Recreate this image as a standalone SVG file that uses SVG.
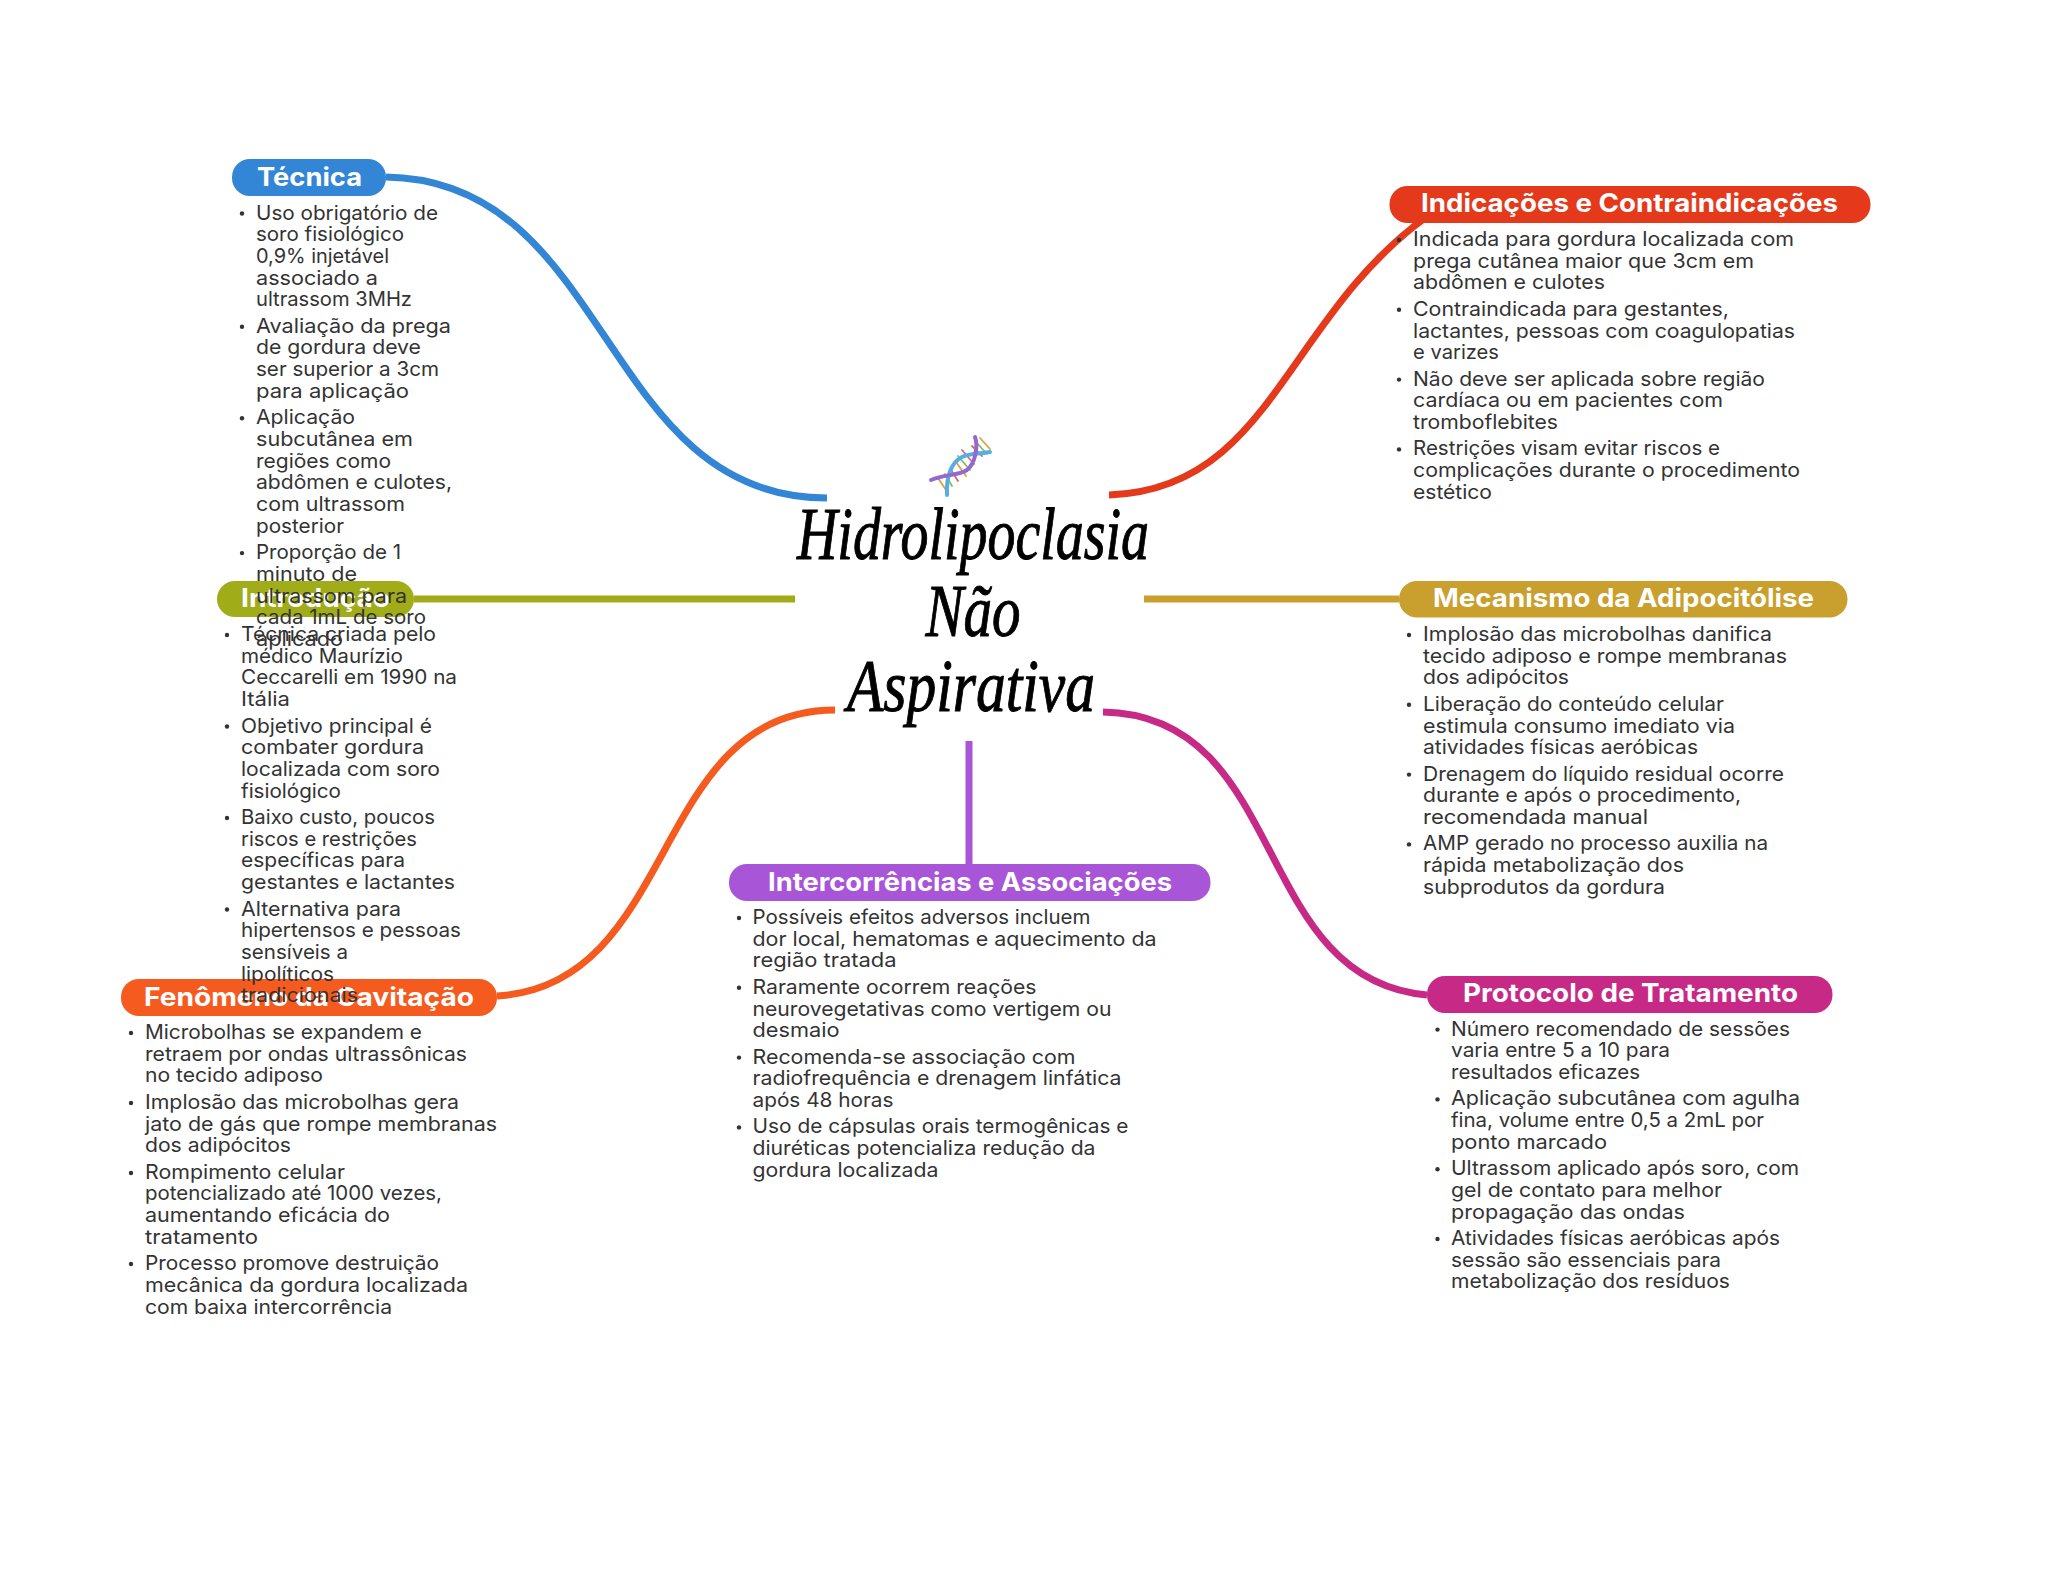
<svg xmlns="http://www.w3.org/2000/svg" width="2048" height="1569" viewBox="0 0 2048 1569">
<style>
.t{font-family:"Inter","Noto Sans",sans-serif;font-size:20px;fill:#333}
.h{font-family:"Inter","Noto Sans",sans-serif;font-size:25.5px;font-weight:700;fill:#fff}
.c{fill:none;stroke-width:7}
.m{font-family:"Liberation Serif",serif;font-style:italic;font-size:74px;fill:#000;stroke:#000;stroke-width:1}
.b{fill:#333}
</style>
<rect width="2048" height="1569" fill="#fff"/>
<g id="connectors">
<path class="c" stroke="#3385d6" d="M386 177C612 180 600 498 827 498"/>
<path class="c" stroke="#e5391b" d="M1109 495C1270 490 1285 320 1425 218"/>
<path class="c" stroke="#a0ac18" d="M414 599H795"/>
<path class="c" stroke="#c9a02e" d="M1144 599H1399"/>
<path class="c" stroke="#f55a1e" d="M497 996C680 985 650 710 835 710"/>
<path class="c" stroke="#c72a86" d="M1103 712C1290 715 1250 980 1427 995"/>
<path class="c" stroke="#a855d8" d="M969 741V864"/>
</g>
<g id="central">
<g id="dna" fill="none" stroke-linecap="round">
<g stroke-width="1.8">
<path stroke="#e0a040" d="M938 478L946 490"/><path stroke="#7fc060" d="M945 474L952 486"/><path stroke="#d86a6a" d="M951 470L958 481"/>
<path stroke="#e0a040" d="M956 462L966 476"/><path stroke="#7fc060" d="M958 456L970 470"/><path stroke="#d86a6a" d="M962 450L974 464"/>
<path stroke="#7fc060" d="M976 442L986 453"/><path stroke="#e0a040" d="M980 438L990 449"/><path stroke="#d86a6a" d="M972 446L982 456"/>
</g>
<path stroke="#56aee0" stroke-width="4" d="M947 495C946 475 952 462 962 457C972 452 982 454 990 452"/>
<path stroke="#9468cf" stroke-width="4" d="M931 480C945 474 958 476 967 470C976 463 978 445 975 437"/>
</g>
<text class="m" x="973" y="559" text-anchor="middle" textLength="352" lengthAdjust="spacingAndGlyphs">Hidrolipoclasia</text>
<text class="m" x="973" y="636" text-anchor="middle" textLength="95" lengthAdjust="spacingAndGlyphs">Não</text>
<text class="m" x="971" y="711" text-anchor="middle" textLength="248" lengthAdjust="spacingAndGlyphs">Aspirativa</text>
</g>
<g id="fenomeno">
<rect x="121" y="979" width="376" height="37" rx="18" fill="#f55a1e"/>
<text class="h" x="144" y="1006" textLength="330" lengthAdjust="spacingAndGlyphs">Fenômeno da Cavitação</text>
<circle class="b" cx="131" cy="1033" r="2.2"/><circle class="b" cx="131" cy="1103" r="2.2"/><circle class="b" cx="131" cy="1173" r="2.2"/><circle class="b" cx="131" cy="1264" r="2.2"/>
<text class="t" x="145" y="1039" textLength="277" lengthAdjust="spacingAndGlyphs">Microbolhas se expandem e</text>
<text class="t" x="145" y="1060.7" textLength="322" lengthAdjust="spacingAndGlyphs">retraem por ondas ultrassônicas</text>
<text class="t" x="145" y="1082.4" textLength="178" lengthAdjust="spacingAndGlyphs">no tecido adiposo</text>
<text class="t" x="145" y="1108.8" textLength="314" lengthAdjust="spacingAndGlyphs">Implosão das microbolhas gera</text>
<text class="t" x="145" y="1130.5" textLength="352" lengthAdjust="spacingAndGlyphs">jato de gás que rompe membranas</text>
<text class="t" x="145" y="1152.2" textLength="146" lengthAdjust="spacingAndGlyphs">dos adipócitos</text>
<text class="t" x="145" y="1178.6" textLength="200" lengthAdjust="spacingAndGlyphs">Rompimento celular</text>
<text class="t" x="145" y="1200.3" textLength="297" lengthAdjust="spacingAndGlyphs">potencializado até 1000 vezes,</text>
<text class="t" x="145" y="1222" textLength="245" lengthAdjust="spacingAndGlyphs">aumentando eficácia do</text>
<text class="t" x="145" y="1243.7" textLength="113" lengthAdjust="spacingAndGlyphs">tratamento</text>
<text class="t" x="145" y="1270.1" textLength="294" lengthAdjust="spacingAndGlyphs">Processo promove destruição</text>
<text class="t" x="145" y="1291.8" textLength="323" lengthAdjust="spacingAndGlyphs">mecânica da gordura localizada</text>
<text class="t" x="145" y="1313.5" textLength="247" lengthAdjust="spacingAndGlyphs">com baixa intercorrência</text>
</g>
<g id="introducao">
<rect x="217" y="581" width="197" height="36" rx="18" fill="#a0ac18"/>
<text class="h" x="241" y="607" textLength="149" lengthAdjust="spacingAndGlyphs">Introdução</text>
<circle class="b" cx="227" cy="635" r="2.2"/><circle class="b" cx="227" cy="726.5" r="2.2"/><circle class="b" cx="227" cy="818" r="2.2"/><circle class="b" cx="227" cy="909.500" r="2.2"/>
<text class="t" x="241" y="641" textLength="195" lengthAdjust="spacingAndGlyphs">Técnica criada pelo</text>
<text class="t" x="241" y="662.7" textLength="162" lengthAdjust="spacingAndGlyphs">médico Maurízio</text>
<text class="t" x="241" y="684.4" textLength="216" lengthAdjust="spacingAndGlyphs">Ceccarelli em 1990 na</text>
<text class="t" x="241" y="706.1" textLength="49" lengthAdjust="spacingAndGlyphs">Itália</text>
<text class="t" x="241" y="732.5" textLength="191" lengthAdjust="spacingAndGlyphs">Objetivo principal é</text>
<text class="t" x="241" y="754.2" textLength="183" lengthAdjust="spacingAndGlyphs">combater gordura</text>
<text class="t" x="241" y="775.9" textLength="199" lengthAdjust="spacingAndGlyphs">localizada com soro</text>
<text class="t" x="241" y="797.6" textLength="100" lengthAdjust="spacingAndGlyphs">fisiológico</text>
<text class="t" x="241" y="824" textLength="194" lengthAdjust="spacingAndGlyphs">Baixo custo, poucos</text>
<text class="t" x="241" y="845.7" textLength="176" lengthAdjust="spacingAndGlyphs">riscos e restrições</text>
<text class="t" x="241" y="867.4" textLength="164" lengthAdjust="spacingAndGlyphs">específicas para</text>
<text class="t" x="241" y="889.1" textLength="214" lengthAdjust="spacingAndGlyphs">gestantes e lactantes</text>
<text class="t" x="241" y="915.5" textLength="160" lengthAdjust="spacingAndGlyphs">Alternativa para</text>
<text class="t" x="241" y="937.2" textLength="220" lengthAdjust="spacingAndGlyphs">hipertensos e pessoas</text>
<text class="t" x="241" y="958.9" textLength="107" lengthAdjust="spacingAndGlyphs">sensíveis a</text>
<text class="t" x="241" y="980.6" textLength="93" lengthAdjust="spacingAndGlyphs">lipolíticos</text>
<text class="t" x="241" y="1002.3" textLength="117" lengthAdjust="spacingAndGlyphs">tradicionais</text>
</g>
<g id="tecnica">
<rect x="232" y="159" width="154" height="37" rx="18" fill="#3385d6"/>
<text class="h" x="257" y="186" textLength="105" lengthAdjust="spacingAndGlyphs">Técnica</text>
<circle class="b" cx="242" cy="213.500" r="2.2"/><circle class="b" cx="242" cy="326.700" r="2.2"/><circle class="b" cx="242" cy="418.200" r="2.2"/><circle class="b" cx="242" cy="553.100" r="2.2"/>
<text class="t" x="256" y="219.500" textLength="182" lengthAdjust="spacingAndGlyphs">Uso obrigatório de</text>
<text class="t" x="256" y="241.200" textLength="148" lengthAdjust="spacingAndGlyphs">soro fisiológico</text>
<text class="t" x="256" y="262.900" textLength="133" lengthAdjust="spacingAndGlyphs">0,9% injetável</text>
<text class="t" x="256" y="284.600" textLength="122" lengthAdjust="spacingAndGlyphs">associado a</text>
<text class="t" x="256" y="306.300" textLength="156" lengthAdjust="spacingAndGlyphs">ultrassom 3MHz</text>
<text class="t" x="256" y="332.700" textLength="195" lengthAdjust="spacingAndGlyphs">Avaliação da prega</text>
<text class="t" x="256" y="354.400" textLength="165" lengthAdjust="spacingAndGlyphs">de gordura deve</text>
<text class="t" x="256" y="376.100" textLength="183" lengthAdjust="spacingAndGlyphs">ser superior a 3cm</text>
<text class="t" x="256" y="397.800" textLength="153" lengthAdjust="spacingAndGlyphs">para aplicação</text>
<text class="t" x="256" y="424.200" textLength="99" lengthAdjust="spacingAndGlyphs">Aplicação</text>
<text class="t" x="256" y="445.900" textLength="157" lengthAdjust="spacingAndGlyphs">subcutânea em</text>
<text class="t" x="256" y="467.600" textLength="135" lengthAdjust="spacingAndGlyphs">regiões como</text>
<text class="t" x="256" y="489.300" textLength="196" lengthAdjust="spacingAndGlyphs">abdômen e culotes,</text>
<text class="t" x="256" y="511" textLength="149" lengthAdjust="spacingAndGlyphs">com ultrassom</text>
<text class="t" x="256" y="532.700" textLength="88" lengthAdjust="spacingAndGlyphs">posterior</text>
<text class="t" x="256" y="559.100" textLength="145" lengthAdjust="spacingAndGlyphs">Proporção de 1</text>
<text class="t" x="256" y="580.800" textLength="101" lengthAdjust="spacingAndGlyphs">minuto de</text>
<text class="t" x="256" y="602.500" textLength="151" lengthAdjust="spacingAndGlyphs">ultrassom para</text>
<text class="t" x="256" y="624.200" textLength="170" lengthAdjust="spacingAndGlyphs">cada 1mL de soro</text>
<text class="t" x="256" y="645.900" textLength="87" lengthAdjust="spacingAndGlyphs">aplicado</text>
</g>
<g id="indicacoes">
<rect x="1389.500" y="186" width="481" height="37" rx="18" fill="#e5391b"/>
<text class="h" x="1421" y="212" textLength="417" lengthAdjust="spacingAndGlyphs">Indicações e Contraindicações</text>
<circle class="b" cx="1399" cy="240" r="2.2"/><circle class="b" cx="1399" cy="309.800" r="2.2"/><circle class="b" cx="1399" cy="379.600" r="2.2"/><circle class="b" cx="1399" cy="449.400" r="2.2"/>
<text class="t" x="1413" y="246" textLength="381" lengthAdjust="spacingAndGlyphs">Indicada para gordura localizada com</text>
<text class="t" x="1413" y="267.700" textLength="341" lengthAdjust="spacingAndGlyphs">prega cutânea maior que 3cm em</text>
<text class="t" x="1413" y="289.400" textLength="192" lengthAdjust="spacingAndGlyphs">abdômen e culotes</text>
<text class="t" x="1413" y="315.800" textLength="316" lengthAdjust="spacingAndGlyphs">Contraindicada para gestantes,</text>
<text class="t" x="1413" y="337.500" textLength="382" lengthAdjust="spacingAndGlyphs">lactantes, pessoas com coagulopatias</text>
<text class="t" x="1413" y="359.200" textLength="86" lengthAdjust="spacingAndGlyphs">e varizes</text>
<text class="t" x="1413" y="385.600" textLength="352" lengthAdjust="spacingAndGlyphs">Não deve ser aplicada sobre região</text>
<text class="t" x="1413" y="407.300" textLength="310" lengthAdjust="spacingAndGlyphs">cardíaca ou em pacientes com</text>
<text class="t" x="1413" y="429" textLength="145" lengthAdjust="spacingAndGlyphs">tromboflebites</text>
<text class="t" x="1413" y="455.400" textLength="307" lengthAdjust="spacingAndGlyphs">Restrições visam evitar riscos e</text>
<text class="t" x="1413" y="477.100" textLength="387" lengthAdjust="spacingAndGlyphs">complicações durante o procedimento</text>
<text class="t" x="1413" y="498.800" textLength="79" lengthAdjust="spacingAndGlyphs">estético</text>
</g>
<g id="mecanismo">
<rect x="1399" y="581" width="448.500" height="36.500" rx="18" fill="#c9a02e"/>
<text class="h" x="1433" y="607" textLength="381" lengthAdjust="spacingAndGlyphs">Mecanismo da Adipocitólise</text>
<circle class="b" cx="1409" cy="635" r="2.2"/><circle class="b" cx="1409" cy="704.800" r="2.2"/><circle class="b" cx="1409" cy="774.600" r="2.2"/><circle class="b" cx="1409" cy="844.400" r="2.2"/>
<text class="t" x="1423" y="641" textLength="349" lengthAdjust="spacingAndGlyphs">Implosão das microbolhas danifica</text>
<text class="t" x="1423" y="662.700" textLength="364" lengthAdjust="spacingAndGlyphs">tecido adiposo e rompe membranas</text>
<text class="t" x="1423" y="684.400" textLength="146" lengthAdjust="spacingAndGlyphs">dos adipócitos</text>
<text class="t" x="1423" y="710.800" textLength="301" lengthAdjust="spacingAndGlyphs">Liberação do conteúdo celular</text>
<text class="t" x="1423" y="732.500" textLength="312" lengthAdjust="spacingAndGlyphs">estimula consumo imediato via</text>
<text class="t" x="1423" y="754.200" textLength="275" lengthAdjust="spacingAndGlyphs">atividades físicas aeróbicas</text>
<text class="t" x="1423" y="780.600" textLength="361" lengthAdjust="spacingAndGlyphs">Drenagem do líquido residual ocorre</text>
<text class="t" x="1423" y="802.300" textLength="318" lengthAdjust="spacingAndGlyphs">durante e após o procedimento,</text>
<text class="t" x="1423" y="824" textLength="225" lengthAdjust="spacingAndGlyphs">recomendada manual</text>
<text class="t" x="1423" y="850.400" textLength="345" lengthAdjust="spacingAndGlyphs">AMP gerado no processo auxilia na</text>
<text class="t" x="1423" y="872.100" textLength="261" lengthAdjust="spacingAndGlyphs">rápida metabolização dos</text>
<text class="t" x="1423" y="893.800" textLength="242" lengthAdjust="spacingAndGlyphs">subprodutos da gordura</text>
</g>
<g id="protocolo">
<rect x="1427" y="976" width="405.500" height="37" rx="18" fill="#c72a86"/>
<text class="h" x="1463" y="1002" textLength="335" lengthAdjust="spacingAndGlyphs">Protocolo de Tratamento</text>
<circle class="b" cx="1437.500" cy="1029.600" r="2.2"/><circle class="b" cx="1437.500" cy="1099.400" r="2.2"/><circle class="b" cx="1437.500" cy="1169.200" r="2.2"/><circle class="b" cx="1437.500" cy="1239" r="2.2"/>
<text class="t" x="1451" y="1035.600" textLength="339" lengthAdjust="spacingAndGlyphs">Número recomendado de sessões</text>
<text class="t" x="1451" y="1057.300" textLength="219" lengthAdjust="spacingAndGlyphs">varia entre 5 a 10 para</text>
<text class="t" x="1451" y="1079" textLength="189" lengthAdjust="spacingAndGlyphs">resultados eficazes</text>
<text class="t" x="1451" y="1105.400" textLength="349" lengthAdjust="spacingAndGlyphs">Aplicação subcutânea com agulha</text>
<text class="t" x="1451" y="1127.100" textLength="313" lengthAdjust="spacingAndGlyphs">fina, volume entre 0,5 a 2mL por</text>
<text class="t" x="1451" y="1148.800" textLength="156" lengthAdjust="spacingAndGlyphs">ponto marcado</text>
<text class="t" x="1451" y="1175.200" textLength="348" lengthAdjust="spacingAndGlyphs">Ultrassom aplicado após soro, com</text>
<text class="t" x="1451" y="1196.900" textLength="271" lengthAdjust="spacingAndGlyphs">gel de contato para melhor</text>
<text class="t" x="1451" y="1218.600" textLength="234" lengthAdjust="spacingAndGlyphs">propagação das ondas</text>
<text class="t" x="1451" y="1245" textLength="329" lengthAdjust="spacingAndGlyphs">Atividades físicas aeróbicas após</text>
<text class="t" x="1451" y="1266.700" textLength="270" lengthAdjust="spacingAndGlyphs">sessão são essenciais para</text>
<text class="t" x="1451" y="1288.400" textLength="279" lengthAdjust="spacingAndGlyphs">metabolização dos resíduos</text>
</g>
<g id="intercorrencias">
<rect x="729" y="864" width="481.500" height="37" rx="18" fill="#a855d8"/>
<text class="h" x="768" y="891" textLength="404" lengthAdjust="spacingAndGlyphs">Intercorrências e Associações</text>
<circle class="b" cx="739" cy="918" r="2.2"/><circle class="b" cx="739" cy="987.800" r="2.2"/><circle class="b" cx="739" cy="1057.600" r="2.2"/><circle class="b" cx="739" cy="1127.400" r="2.2"/>
<text class="t" x="752.500" y="924" textLength="338" lengthAdjust="spacingAndGlyphs">Possíveis efeitos adversos incluem</text>
<text class="t" x="752.500" y="945.700" textLength="404" lengthAdjust="spacingAndGlyphs">dor local, hematomas e aquecimento da</text>
<text class="t" x="752.500" y="967.400" textLength="144" lengthAdjust="spacingAndGlyphs">região tratada</text>
<text class="t" x="752.500" y="993.800" textLength="284" lengthAdjust="spacingAndGlyphs">Raramente ocorrem reações</text>
<text class="t" x="752.500" y="1015.500" textLength="359" lengthAdjust="spacingAndGlyphs">neurovegetativas como vertigem ou</text>
<text class="t" x="752.500" y="1037.200" textLength="87" lengthAdjust="spacingAndGlyphs">desmaio</text>
<text class="t" x="752.500" y="1063.600" textLength="323" lengthAdjust="spacingAndGlyphs">Recomenda-se associação com</text>
<text class="t" x="752.500" y="1085.300" textLength="369" lengthAdjust="spacingAndGlyphs">radiofrequência e drenagem linfática</text>
<text class="t" x="752.500" y="1107" textLength="141" lengthAdjust="spacingAndGlyphs">após 48 horas</text>
<text class="t" x="752.500" y="1133.400" textLength="376" lengthAdjust="spacingAndGlyphs">Uso de cápsulas orais termogênicas e</text>
<text class="t" x="752.500" y="1155.100" textLength="343" lengthAdjust="spacingAndGlyphs">diuréticas potencializa redução da</text>
<text class="t" x="752.500" y="1176.800" textLength="186" lengthAdjust="spacingAndGlyphs">gordura localizada</text>
</g>
</svg>
